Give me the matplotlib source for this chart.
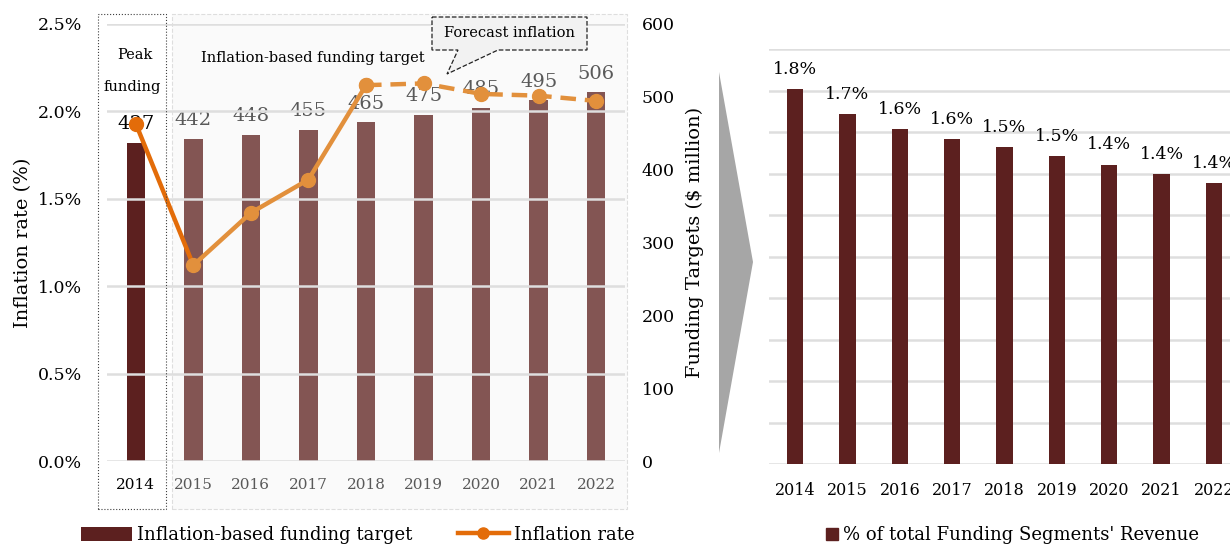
import numpy as np
import matplotlib.pyplot as plt
from matplotlib.patches import Rectangle, Polygon, Patch
from matplotlib.lines import Line2D

plt.rcParams['font.family'] = ['DejaVu Serif']

years = ['2014', '2015', '2016', '2017', '2018', '2019', '2020', '2021', '2022']
funding_target = [437, 442, 448, 455, 465, 475, 485, 495, 506]
inflation_rate = [1.93, 1.12, 1.42, 1.61, 2.15, 2.16, 2.10, 2.09, 2.06]
revenue_share = [1.806, 1.685, 1.613, 1.565, 1.526, 1.484, 1.443, 1.398, 1.353]

dark_red = '#5C201F'
light_red = '#835553'
dark_orange = '#E36C09'
light_orange = '#E2903C'
grid_gray = '#DEDEDE'
W, H = 1230, 544


def px(x, y):
    return (x / W, 1 - y / H)


fig = plt.figure(figsize=(12.3, 5.44), dpi=100)

# background decorations
fig.patches.append(Rectangle(px(172, 509), 455 / W, 495 / H, transform=fig.transFigure,
                             facecolor='#FAFAFA', edgecolor=grid_gray, lw=0.8, ls='--', zorder=-5))
fig.patches.append(Rectangle(px(98, 509), 68 / W, 495 / H, transform=fig.transFigure,
                             facecolor='none', edgecolor='#404040', lw=0.8, ls=':', zorder=5))
fig.patches.append(Polygon([px(719, 72), px(753, 262), px(719, 453)], closed=True,
                           transform=fig.transFigure, facecolor='#A6A6A6', edgecolor='none'))

# ---- left chart ----
ax = fig.add_axes([107 / W, 83 / H, 518 / W, 437 / H])
ax2 = ax.twinx()
x = np.arange(len(years))

bar_colors = [dark_red] + [light_red] * (len(years) - 1)
ax2.bar(x, funding_target, width=0.32, color=bar_colors, zorder=2)
ax2.set_ylim(0, 600)
ax2.set_yticks(range(0, 601, 100))
for i, v in enumerate(funding_target):
    ax2.annotate(str(v), (x[i], v), xytext=(0, 7), textcoords='offset points',
                 ha='center', va='bottom', fontsize=14,
                 color='black' if i == 0 else '#595959', zorder=6)

ax.set_zorder(ax2.get_zorder() + 1)
ax.patch.set_visible(False)
ax2.patch.set_visible(False)
ax.plot(x[:2], inflation_rate[:2], color=dark_orange, lw=3.2, zorder=3)
ax.plot(x[1:5], inflation_rate[1:5], color=light_orange, lw=3.2, marker='o', ms=10, zorder=3)
ax.plot(x[4:], inflation_rate[4:], color=light_orange, lw=3.2, ls=(0, (3.5, 2)),
        marker='o', ms=10, zorder=3)
ax.plot(x[:1], inflation_rate[:1], color=dark_orange, marker='o', ms=10, lw=0, zorder=4)

ax.set_ylim(0, 2.5)
ax.set_yticks(np.arange(0, 2.51, 0.5))
ax.set_yticklabels([f'{t:.1f}%' for t in np.arange(0, 2.51, 0.5)])
ax.set_xlim(-0.5, 8.5)
ax.set_xticks(x)
ax.set_xticklabels(years, fontsize=11)
for i, t in enumerate(ax.get_xticklabels()):
    t.set_color('black' if i == 0 else '#595959')
ax.tick_params(axis='x', length=0, pad=12)
ax.tick_params(axis='y', length=0, labelsize=12.5, pad=18)
ax2.tick_params(axis='y', length=0, labelsize=12.5, pad=12)
ax.yaxis.grid(True, color=grid_gray, lw=1.8)
ax.set_axisbelow(True)
for a in (ax, ax2):
    for s in a.spines.values():
        s.set_visible(False)
ax.set_ylabel('Inflation rate (%)', fontsize=14, labelpad=4)
ax2.set_ylabel('Funding Targets ($ million)', fontsize=14, labelpad=8)

fig.text(135 / W, 1 - 55 / H, 'Peak', ha='center', va='center', fontsize=10.5)
fig.text(132 / W, 1 - 87 / H, 'funding', ha='center', va='center', fontsize=10.5)
fig.text(313 / W, 1 - 58 / H, 'Inflation-based funding target', ha='center', va='center', fontsize=10.5)

# forecast callout
fig.patches.append(Polygon([px(432, 17), px(587, 17), px(587, 50), px(498, 50), px(447, 74),
                            px(458, 50), px(432, 50)], closed=True, transform=fig.transFigure,
                           facecolor='#F2F2F2', edgecolor='#222222', lw=0.9, ls='--', zorder=6))
fig.text(509 / W, 1 - 33 / H, 'Forecast inflation', ha='center', va='center', fontsize=10.5, zorder=7)

leg_handles = [Patch(facecolor=dark_red),
               Line2D([0], [0], color=dark_orange, lw=3.2, marker='o', ms=8)]
fig.legend(leg_handles, ['Inflation-based funding target', 'Inflation rate'], loc='center',
           bbox_to_anchor=(358 / W, 1 - 535 / H), ncol=2, frameon=False, fontsize=13,
           handlelength=2.8, handleheight=0.8, handletextpad=0.3, columnspacing=2.5)

# ---- right chart ----
bx = fig.add_axes([769 / W, 80 / H, 471 / W, 415 / H])
bx.bar(x, revenue_share, width=0.31, color=dark_red, zorder=2)
for i, v in enumerate(revenue_share):
    bx.annotate(f'{v:.1f}%', (x[i], v), xytext=(0, 8), textcoords='offset points',
                ha='center', va='bottom', fontsize=12.5)
bx.set_xlim(-0.5, 8.5)
bx.set_ylim(0, 2.0)
bx.set_yticks(np.arange(0, 2.01, 0.2))
bx.set_yticklabels([])
bx.set_xticks(x)
bx.set_xticklabels(years, fontsize=11.5)
bx.tick_params(length=0)
bx.tick_params(axis='x', pad=13)
bx.yaxis.grid(True, color=grid_gray, lw=1.8)
bx.set_axisbelow(True)
for s in bx.spines.values():
    s.set_visible(False)

fig.legend([Line2D([0], [0], color=dark_red, marker='s', ms=9, lw=0)],
           ["% of total Funding Segments' Revenue"], loc='center',
           bbox_to_anchor=(1012 / W, 1 - 535 / H), frameon=False, fontsize=13,
           handlelength=0.8, handletextpad=0.2)

fig.savefig('out.png', dpi=100)
